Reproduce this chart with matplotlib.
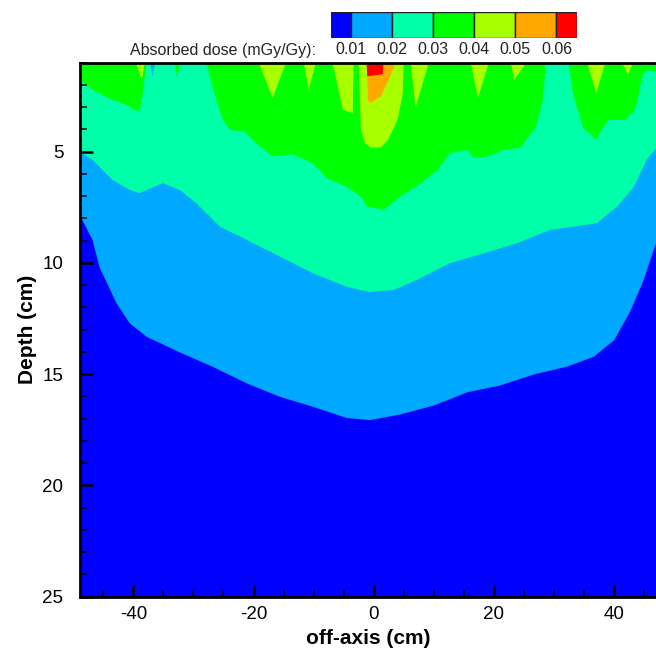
import matplotlib
matplotlib.use("Agg")
import matplotlib.pyplot as plt
from matplotlib.ticker import MultipleLocator

plt.rcParams['font.family'] = ['Liberation Sans', 'DejaVu Sans']
plt.rcParams['axes.unicode_minus'] = False

# iso-dose levels (mGy/Gy) and the band colours between them
levels = [0.01, 0.02, 0.03, 0.04, 0.05, 0.06]
band_colors = ['#0000ff', '#00a8ff', '#00ffa8', '#00ff00', '#a8ff00', '#ffa800', '#ff0000']

# depth (cm) of each iso-dose line against off-axis position (cm)
x_001 = [-49, -48.6, -46.9, -45.7, -42.9, -40.7, -37.9, -32.4, -26.9, -21.2, -15.7, -10.2, -4.6,
         -0.7, 4.3, 9.9, 15.5, 20.9, 26.6, 32.1, 36.6, 40.0, 42.6, 44.9, 47.2]
d_001 = [7.9, 8.05, 8.95, 10.2, 11.8, 12.7, 13.3, 14.0, 14.65, 15.4, 16.0, 16.45, 16.95,
         17.05, 16.8, 16.4, 15.8, 15.5, 15.0, 14.65, 14.2, 13.45, 12.2, 10.75, 8.9]

x_002 = [-49, -46.9, -43.6, -40.7, -39.1, -35.2, -32.4, -29.6, -25.7, -21.2, -15.7, -10.2, -4.6,
         -0.7, 3.3, 7.1, 12.6, 18.3, 23.8, 29.3, 33.3, 37.1, 40.5, 43.3, 45.4, 47.2]
d_002 = [5.0, 5.35, 6.25, 6.7, 6.85, 6.4, 6.7, 7.3, 8.35, 8.95, 9.7, 10.45, 11.05,
         11.3, 11.2, 10.75, 10.0, 9.55, 9.1, 8.5, 8.35, 8.2, 7.45, 6.55, 5.35, 4.75]

x_003 = [-49, -48.4, -46.9, -43.6, -41.9, -39.1, -38.6, -37.9, -33.2, -32.8, -32.4, -27.9,
         -26.9, -25.2, -24.0, -21.4, -19.7, -16.9, -13.6, -10.2, -7.7, -4.6, -2.2, -1.2, 1.6,
         4.3, 7.8, 10.6, 12.6, 15.5, 16.6, 18.9, 21.6, 24.4, 26.9, 28.1, 28.6, 32.4, 33.1,
         34.8, 37.0, 38.1, 39.1, 41.9, 43.6, 44.8, 45.8, 47.2]
d_003 = [1.77, 1.9, 2.2, 2.66, 2.8, 3.2, 2.5, 1.0, 1.0, 1.7, 1.0, 1.0,
         2.1, 3.56, 4.0, 4.1, 4.6, 5.2, 5.1, 5.5, 6.2, 6.55, 7.0, 7.45, 7.6,
         7.0, 6.4, 5.8, 5.05, 4.9, 5.27, 5.2, 4.9, 4.8, 3.9, 2.66, 1.0, 1.0, 2.35,
         3.9, 4.45, 3.9, 3.56, 3.56, 3.0, 1.45, 1.3, 1.4]

x_004 = [-49, -39.6, -38.7, -38.2, -19.2, -16.9, -14.7, -11.7, -10.9, -9.7, -6.9, -5.2, -3.55,
         -3.4, -2.55, -2.2, -1.55, -0.55, 1.1, 2.3, 3.9, 4.8, 4.9, 6.1, 6.9, 9.1, 16.1, 17.3,
         19.1, 22.8, 23.3, 25.3, 35.5, 37.0, 38.5, 41.3, 42.3, 43.1, 47.2]
d_004 = [1, 1, 1.77, 1, 1, 2.57, 1, 1, 2.2, 1, 1, 3.1, 3.25,
         1, 1, 4.0, 4.6, 4.8, 4.8, 4.46, 3.56, 2.35, 1, 1, 3.0, 1, 1, 2.57,
         1, 1, 1.77, 1, 1, 2.35, 1, 1, 1.5, 1, 1]

x_005 = [-1.15, -1.05, -0.55, 1.1, 2.4, 3.3, 3.4]
d_005 = [1, 2.66, 2.8, 2.5, 1.77, 1.2, 1]

x_006 = [-1.25, -1.15, 1.45, 1.55]
d_006 = [1, 1.6, 1.5, 1]

# small low-dose notch at the surface
x_notch = [-37.3, -36.9, -36.5]
d_notch = [1, 1.6, 1]

fig = plt.figure(figsize=(6.56, 6.48), dpi=100)
ax = fig.add_axes([80/656, 51.5/648, 577/656, 534/648])
ax.set_facecolor(band_colors[0])

bounds = [(x_001, d_001), (x_002, d_002), (x_003, d_003),
          (x_004, d_004), (x_005, d_005), (x_006, d_006)]
for (xs, ds), c in zip(bounds, band_colors[1:]):
    ax.fill_between(xs, 0.5, ds, color=c, linewidth=0)
ax.fill_between(x_notch, 0.5, d_notch, color=band_colors[1], linewidth=0)

ax.set_xlim(-48.9, 47.2)
ax.set_ylim(25, 1)
ax.set_xticks([-40, -20, 0, 20, 40])
ax.xaxis.set_minor_locator(MultipleLocator(5))
ax.set_yticks([5, 10, 15, 20, 25])
ax.yaxis.set_minor_locator(MultipleLocator(1))
ax.tick_params(which='major', direction='in', length=9, width=1.8, labelsize=13.5, color='black')
ax.tick_params(which='minor', direction='in', length=5, width=1.1)
ax.tick_params(axis='y', pad=12)
ax.tick_params(axis='x', pad=7)
for s in ['left', 'bottom', 'top']:
    ax.spines[s].set_linewidth(2)
ax.spines['right'].set_visible(False)

ax.set_xlabel('off-axis (cm)', fontsize=15, fontweight='bold', labelpad=4)
ax.set_ylabel('Depth (cm)', fontsize=15, fontweight='bold', labelpad=4)

# legend bar at the top
cax = fig.add_axes([330.5/656, (648-38)/648, 246.5/656, 26/648])
edges = [0.005] + levels + [0.065]
for i, c in enumerate(band_colors):
    cax.bar(edges[i], 1, width=edges[i+1]-edges[i], align='edge', color=c,
            edgecolor='#222222', linewidth=1)
cax.set_xlim(0.005, 0.065)
cax.set_ylim(0, 1)
cax.axis('off')
for lev in levels:
    cax.text(lev, -0.46, f'{lev:.2f}', ha='center', va='center', fontsize=11.5,
             color='#222222', clip_on=False)
fig.text(316/656, 1-50/648, 'Absorbed dose (mGy/Gy):', ha='right', va='center',
         fontsize=11.5, color='#222222')

fig.savefig('out.png', dpi=100)
